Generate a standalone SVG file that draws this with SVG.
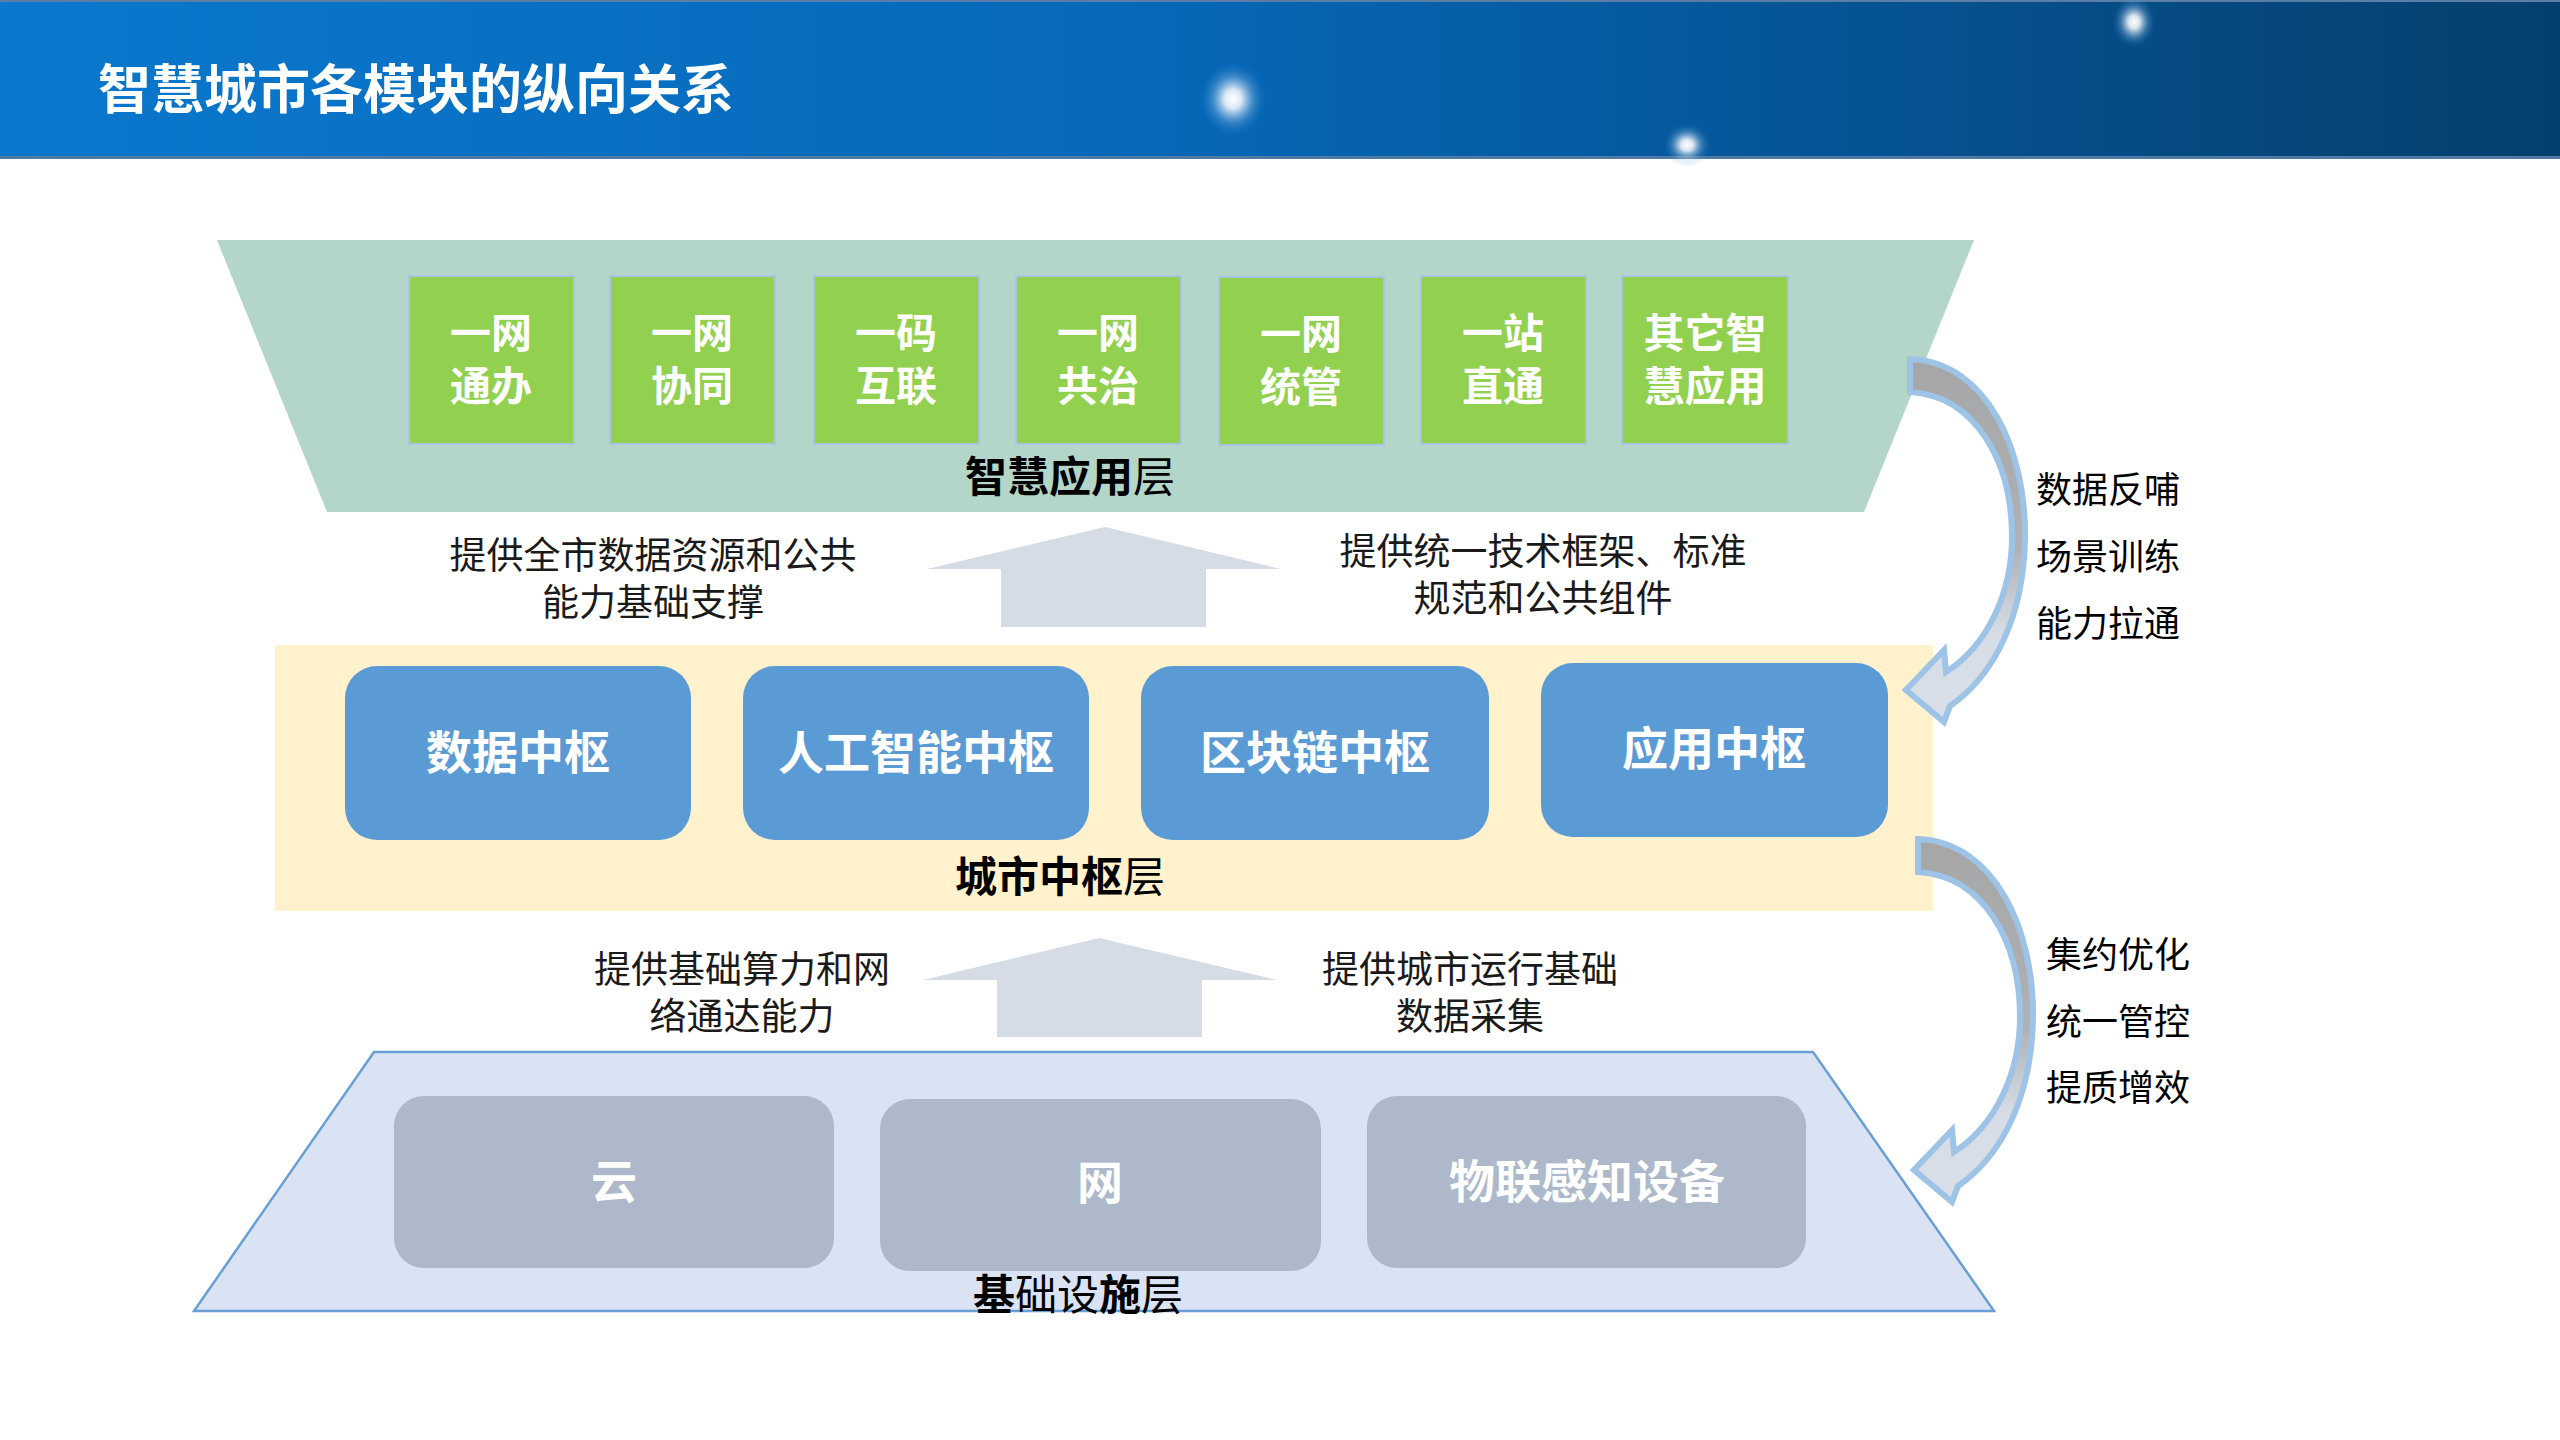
<svg xmlns="http://www.w3.org/2000/svg" width="2560" height="1440" viewBox="0 0 2560 1440">
<defs>
<style>
text{font-family:"Liberation Sans","Noto Sans CJK SC",sans-serif;}
.title{font-size:53px;font-weight:700;fill:#ffffff;}
.app{fill:#92d050;stroke:#a9c4e4;stroke-width:2;}
.appt{font-size:41px;font-weight:700;fill:#ffffff;text-anchor:middle;}
.hub{fill:#5b9bd5;}
.hubt{font-size:46px;font-weight:700;fill:#ffffff;text-anchor:middle;}
.inf{fill:#adb9ca;}
.inft{font-size:46px;font-weight:700;fill:#ffffff;text-anchor:middle;}
.layer{font-size:42px;fill:#000000;text-anchor:middle;}
.b{font-weight:700;}
.desc{font-size:37px;fill:#1a1a1a;text-anchor:middle;}
.side{font-size:36px;fill:#000000;}
.up{fill:#d6dce5;}
.curve{fill:url(#cg);stroke:#9dc3e6;stroke-width:6;stroke-linejoin:miter;}
</style>
<linearGradient id="hdr" x1="0" y1="0" x2="1" y2="0">
<stop offset="0" stop-color="#0a78cd"/>
<stop offset="0.45" stop-color="#0668b9"/>
<stop offset="1" stop-color="#053f6e"/>
</linearGradient>
<radialGradient id="glow">
<stop offset="0" stop-color="#ffffff" stop-opacity="1"/>
<stop offset="0.25" stop-color="#ffffff" stop-opacity="0.85"/>
<stop offset="0.6" stop-color="#bcd8f2" stop-opacity="0.3"/>
<stop offset="1" stop-color="#0a78cd" stop-opacity="0"/>
</radialGradient>
<linearGradient id="cg" gradientUnits="userSpaceOnUse" x1="0" y1="360" x2="0" y2="700">
<stop offset="0" stop-color="#a6a6a6"/>
<stop offset="0.55" stop-color="#aeb1b6"/>
<stop offset="0.8" stop-color="#d6dce5"/>
<stop offset="1" stop-color="#d9dfe8"/>
</linearGradient>
<path id="carrow" d="M1910,359 C1988,362 2026,452 2025,537 C2024,615 1995,675 1950,706 L1944,722 L1906,690 L1944,650 L1946,672 C1988,645 2012,592 2012,537 C2012,462 1976,396 1910,392 Z"/>
</defs>
<rect x="0" y="0" width="2560" height="1440" fill="#ffffff"/>
<g id="header">
<rect x="0" y="0" width="2560" height="159" fill="url(#hdr)"/>
<rect x="0" y="0" width="2560" height="2" fill="#5a7ea6"/>
<rect x="0" y="156" width="2560" height="3" fill="#4f7aa4"/>
<ellipse cx="1233" cy="99" rx="34" ry="38" fill="url(#glow)"/>
<ellipse cx="1687" cy="145" rx="24" ry="22" fill="url(#glow)"/>
<ellipse cx="2134" cy="22" rx="22" ry="26" fill="url(#glow)"/>
<text class="title" x="98" y="109">智慧城市各模块的纵向关系</text>
</g>
<g id="layer-app">
<polygon points="217,240 1974,240 1864,512 327,512" fill="#b3d6c9"/>
<text class="layer" x="1070" y="492"><tspan class="b">智慧应用</tspan>层</text>
</g>
<g id="app-1"><rect class="app" x="409" y="276" width="165" height="168"/><text class="appt" x="491" y="348">一网</text><text class="appt" x="491" y="401">通办</text></g>
<g id="app-2"><rect class="app" x="610" y="276" width="165" height="168"/><text class="appt" x="692" y="348">一网</text><text class="appt" x="692" y="401">协同</text></g>
<g id="app-3"><rect class="app" x="814" y="276" width="165" height="168"/><text class="appt" x="896" y="348">一码</text><text class="appt" x="896" y="401">互联</text></g>
<g id="app-4"><rect class="app" x="1016" y="276" width="165" height="168"/><text class="appt" x="1098" y="348">一网</text><text class="appt" x="1098" y="401">共治</text></g>
<g id="app-5"><rect class="app" x="1219" y="277" width="165" height="168"/><text class="appt" x="1301" y="349">一网</text><text class="appt" x="1301" y="402">统管</text></g>
<g id="app-6"><rect class="app" x="1421" y="276" width="165" height="168"/><text class="appt" x="1503" y="348">一站</text><text class="appt" x="1503" y="401">直通</text></g>
<g id="app-7"><rect class="app" x="1622" y="276" width="166" height="168"/><text class="appt" x="1705" y="348">其它智</text><text class="appt" x="1705" y="401">慧应用</text></g>
<g id="desc-1"><text class="desc" x="653" y="569">提供全市数据资源和公共</text><text class="desc" x="653" y="616">能力基础支撑</text></g>
<g id="desc-2"><text class="desc" x="1543" y="565">提供统一技术框架、标准</text><text class="desc" x="1543" y="612">规范和公共组件</text></g>
<g id="layer-hub">
<rect x="275" y="645" width="1658" height="266" fill="#fff2cc"/>
<text class="layer" x="1060" y="892"><tspan class="b">城市中枢</tspan>层</text>
</g>
<g id="hub-1"><rect class="hub" x="345" y="666" width="346" height="174" rx="32"/><text class="hubt" x="518" y="769">数据中枢</text></g>
<g id="hub-2"><rect class="hub" x="743" y="666" width="346" height="174" rx="32"/><text class="hubt" x="916" y="769">人工智能中枢</text></g>
<g id="hub-3"><rect class="hub" x="1141" y="666" width="348" height="174" rx="32"/><text class="hubt" x="1315" y="769">区块链中枢</text></g>
<g id="hub-4"><rect class="hub" x="1541" y="663" width="347" height="174" rx="32"/><text class="hubt" x="1714" y="765">应用中枢</text></g>
<g id="desc-3"><text class="desc" x="742" y="983">提供基础算力和网</text><text class="desc" x="742" y="1030">络通达能力</text></g>
<g id="desc-4"><text class="desc" x="1470" y="983">提供城市运行基础</text><text class="desc" x="1470" y="1030">数据采集</text></g>
<g id="layer-infra">
<polygon points="374,1052 1813,1052 1994,1311 194,1311" fill="#dae3f3" stroke="#6a9fd6" stroke-width="2.5"/>
</g>
<g id="infra-1"><rect class="inf" x="394" y="1096" width="440" height="172" rx="30"/><text class="inft" x="614" y="1198">云</text></g>
<g id="infra-2"><rect class="inf" x="880" y="1099" width="441" height="172" rx="30"/><text class="inft" x="1100" y="1199">网</text></g>
<g id="infra-3"><rect class="inf" x="1367" y="1096" width="439" height="172" rx="30"/><text class="inft" x="1587" y="1198">物联感知设备</text></g>
<g id="infra-label"><text class="layer" x="1078" y="1310"><tspan class="b">基</tspan>础设<tspan class="b">施</tspan>层</text></g>
<g id="side-1"><text class="side" x="2036" y="503">数据反哺</text><text class="side" x="2036" y="570">场景训练</text><text class="side" x="2036" y="637">能力拉通</text></g>
<g id="side-2"><text class="side" x="2046" y="968">集约优化</text><text class="side" x="2046" y="1035">统一管控</text><text class="side" x="2046" y="1101">提质增效</text></g>
<g id="connectors">
<polygon class="up" points="1105,527 1281,569 1206,569 1206,627 1001,627 1001,569 927,569"/>
<polygon class="up" points="1099,938 1277,980 1202,980 1202,1037 997,1037 997,980 923,980"/>
<use href="#carrow" class="curve"/>
<use href="#carrow" class="curve" transform="translate(8,480)"/>
</g>
</svg>
